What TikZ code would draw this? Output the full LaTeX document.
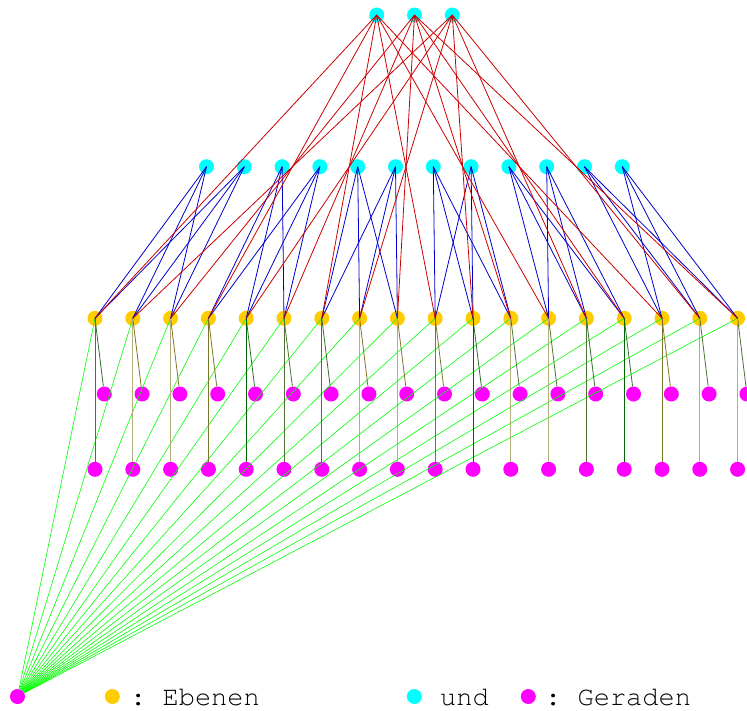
\documentclass[tikz,border=0pt]{standalone}
\usepackage[T1]{fontenc}
\renewcommand\ttdefault{pcr}
\definecolor{gold}{RGB}{255,204,0}
\definecolor{cyanl}{RGB}{0,255,255}
\definecolor{magl}{RGB}{255,0,255}
\definecolor{redl}{RGB}{204,0,0}
\definecolor{bluel}{RGB}{0,0,204}
\definecolor{greenl}{RGB}{0,255,0}
\definecolor{gA}{RGB}{46,110,46}
\definecolor{brA}{RGB}{130,115,40}
\definecolor{olA}{RGB}{120,120,40}
\definecolor{gB}{RGB}{80,115,50}
\definecolor{khB}{RGB}{180,175,120}
\definecolor{dgB}{RGB}{0,100,0}
\begin{document}
\begin{tikzpicture}[x=1pt,y=-1pt,
  dot/.style={circle,inner sep=0pt,minimum size=15pt},
  cy/.style={dot,fill=cyanl},
  ye/.style={dot,fill=gold},
  ma/.style={dot,fill=magl},
  redline/.style={draw=redl,line width=0.8pt},
  blueline/.style={draw=bluel,line width=0.8pt},
  greenline/.style={draw=greenl,line width=0.6pt},
  olline/.style={line width=0.8pt},
  lbl/.style={font=\ttfamily\fontsize{27}{27}\selectfont\frenchspacing,inner sep=0pt,anchor=base west}]
\useasboundingbox (0,0) rectangle (747,710);
% nodes
\foreach \k in {0,1,2} \node[cy] (t\k) at ({376.7+37.8*\k},15) {};
\foreach \j in {0,...,11} \node[cy] (c\j) at ({206.5+37.8*\j},166.7) {};
\foreach \i in {0,...,17} {
  \node[ye] (y\i) at ({95+37.8*\i},318.3) {};
  \node[ma] (a\i) at ({104.3+37.8*\i},394) {};
  \node[ma] (b\i) at ({95+37.8*\i},469.3) {};
}
\node[ma] (m) at (17.5,696.5) {};
% green lines
\foreach \i in {0,...,17} \draw[greenline] (m) -- (y\i.center);
% olive lines
\foreach \i/\ca/\cb in {0/gA/gB,1/brA/khB,2/brA/khB,3/olA/olA,4/gA/dgB,5/gB/gB,
  6/gA/gB,7/brA/khB,8/brA/khB,9/olA/olA,10/gA/dgB,11/gB/khB,
  12/gB/khB,13/gA/gB,14/gA/dgB,15/olA/olA,16/gB/khB,17/gB/khB} {
  \draw[olline,draw=\ca] (y\i.center) -- (a\i);
  \draw[olline,draw=\cb] (y\i.center) -- (b\i);
}
% blue lines
\foreach \p in {0,...,5} {
  \pgfmathtruncatemacro{\ja}{2*\p}
  \pgfmathtruncatemacro{\jb}{2*\p+1}
  \foreach \q in {0,1,2} {
    \pgfmathtruncatemacro{\yi}{3*\p+\q}
    \draw[blueline] (c\ja.center) -- (y\yi.center);
    \draw[blueline] (c\jb.center) -- (y\yi.center);
  }
}
% red lines
\foreach \p in {0,...,5} {
  \pgfmathtruncatemacro{\ya}{3*\p}
  \pgfmathtruncatemacro{\yb}{3*\p+1}
  \pgfmathtruncatemacro{\yc}{3*\p+2}
  \draw[redline] (t0.center) -- (y\ya.center);
  \draw[redline] (t2.center) -- (y\yb.center);
  \draw[redline] (t1.center) -- (y\yc.center);
}
% legend
\node[ye] (ly) at (112.3,696.5) {};
\node[lbl] (le) at (130,705.5) {: Ebenen};
\node[cy] (lc) at (414.3,696.5) {};
\node[lbl] (lu) at (440,705.5) {und};
\node[ma] (lm) at (528.3,696.5) {};
\node[lbl] (lg) at (545,705.5) {: Geraden};
\end{tikzpicture}
\end{document}
